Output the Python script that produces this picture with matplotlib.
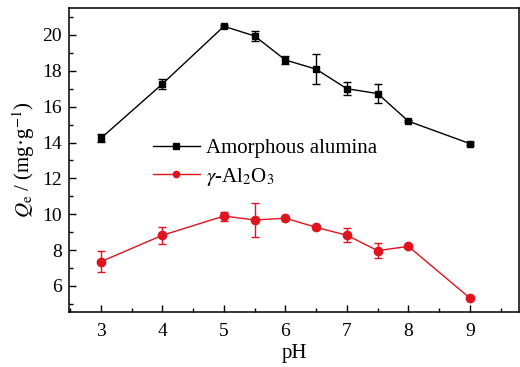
import matplotlib
matplotlib.use("Agg")
import matplotlib.pyplot as plt
from matplotlib.ticker import MultipleLocator

plt.rcParams['font.family'] = ['Liberation Serif', 'DejaVu Serif']
plt.rcParams['mathtext.fontset'] = 'stix'

# pH values and adsorption capacity (mg/g)
ph = [3, 4, 5, 5.5, 6, 6.5, 7, 7.5, 8, 9]
amorphous = [14.24, 17.27, 20.48, 19.94, 18.6, 18.09, 17.0, 16.73, 15.19, 13.94]
amorphous_err = [0.23, 0.26, 0.05, 0.27, 0.22, 0.85, 0.36, 0.53, 0.05, 0.1]
gamma = [7.36, 8.83, 9.9, 9.68, 9.78, 9.27, 8.83, 7.97, 8.21, 5.33]
gamma_err = [0.57, 0.47, 0.25, 0.95, 0.08, 0.1, 0.4, 0.4, 0.08, 0.05]

black = 'black'
red = '#e0141e'

fig = plt.figure(figsize=(5.2, 3.67), dpi=100)
ax = fig.add_axes([69 / 520, 1 - 312 / 367, 450 / 520, 304 / 367])

# error bars first, then the lines with markers (legend shows no bars)
ax.errorbar(ph, amorphous, yerr=amorphous_err, fmt='none', ecolor=black,
            capsize=3, elinewidth=1.0, capthick=1.0)
ax.errorbar(ph, gamma, yerr=gamma_err, fmt='none', ecolor=red,
            capsize=3, elinewidth=1.0, capthick=1.0)
ax.plot(ph, amorphous, color=black, marker='s', markersize=5,
        linewidth=1.0, label='Amorphous alumina')
ax.plot(ph, gamma, color=red, marker='o', markersize=6,
        linewidth=1.0, label=r'$\gamma$-Al$_2$O$_3$')

ax.set_xlim(2.48, 9.8)
ax.set_ylim(4.55, 21.5)
ax.xaxis.set_major_locator(MultipleLocator(1))
ax.xaxis.set_minor_locator(MultipleLocator(0.5))
ax.yaxis.set_major_locator(MultipleLocator(2))
ax.yaxis.set_minor_locator(MultipleLocator(1))
ax.tick_params(which='both', direction='in', top=False, right=False,
               labelsize=14, width=1.0)
ax.tick_params(which='major', length=5, pad=5)
ax.tick_params(axis='x', which='major', pad=8)
ax.tick_params(which='minor', length=3)
for s in ax.spines.values():
    s.set_linewidth(1.1)

ax.set_xlabel('pH', fontsize=15, labelpad=3)
ax.set_ylabel(r'$Q_{\mathrm{e}}$ / (mg·g$^{-1}$)', fontsize=15, labelpad=4)

ax.legend(loc='upper left', bbox_to_anchor=(0.186, 0.57), frameon=False,
          fontsize=15, handlelength=2.26, handletextpad=0.32,
          labelspacing=0.35, borderpad=0, borderaxespad=0, markerscale=0.75)

fig.savefig('out.png', dpi=100)
